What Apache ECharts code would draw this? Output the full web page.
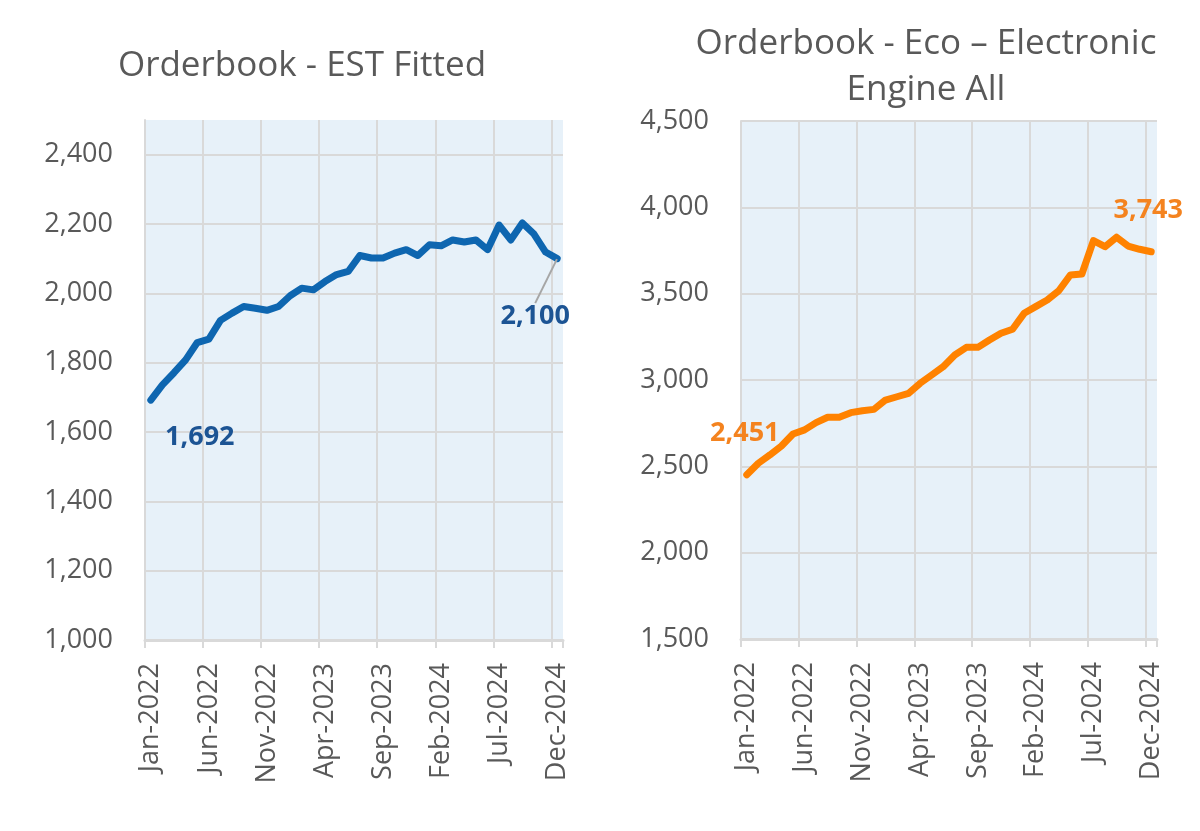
<!DOCTYPE html>
<html>
<head>
<meta charset="utf-8">
<script src="https://cdn.jsdelivr.net/npm/echarts@6/dist/echarts.min.js"></script>
<style>
html,body{margin:0;padding:0;background:#fff;}
#c{width:1200px;height:831px;}
</style>
</head>
<body>
<div id="c"></div>
<script>
var months = ['Jan-2022','Feb-2022','Mar-2022','Apr-2022','May-2022','Jun-2022','Jul-2022','Aug-2022','Sep-2022','Oct-2022','Nov-2022','Dec-2022',
  'Jan-2023','Feb-2023','Mar-2023','Apr-2023','May-2023','Jun-2023','Jul-2023','Aug-2023','Sep-2023','Oct-2023','Nov-2023','Dec-2023',
  'Jan-2024','Feb-2024','Mar-2024','Apr-2024','May-2024','Jun-2024','Jul-2024','Aug-2024','Sep-2024','Oct-2024','Nov-2024','Dec-2024'];
var estFitted = [1692,1736,1771,1808,1858,1868,1922,1943,1962,1957,1951,1962,
  1993,2015,2010,2034,2054,2063,2109,2102,2102,2116,2126,2109,
  2140,2137,2154,2148,2154,2126,2197,2154,2203,2171,2119,2100];
var ecoElectronic = [2451,2518,2566,2618,2687,2711,2753,2784,2784,2811,2822,2830,
  2884,2903,2923,2981,3029,3077,3145,3189,3189,3232,3271,3294,
  3386,3425,3463,3517,3608,3614,3807,3772,3827,3776,3757,3743];
var titleLeft = 'Orderbook - EST Fitted';
var titleRight = 'Orderbook - Eco \u2013 Electronic\nEngine All';

var FONT = '"Open Sans", sans-serif';
var GRAY = '#595959';
var GRID = '#d9d9d9';
var STEP = 5;
var fmt = function (v) { return v.toLocaleString('en-US'); };

function xAxis(gi) {
  return {
    type: 'category', gridIndex: gi, data: months, boundaryGap: true,
    axisLine: { show: true, lineStyle: { color: GRID, width: 3 } },
    axisTick: { show: true, interval: STEP - 1, length: 8, lineStyle: { color: GRID, width: 2 } },
    axisLabel: { interval: STEP - 1, rotate: 90, margin: 23, color: GRAY, fontFamily: FONT, fontSize: 27 },
    splitLine: { show: false }
  };
}
// helper axis carrying only the vertical gridlines (one per labelled month)
function gridAxis(gi) {
  var n = months.length;
  var cols = [];
  for (var v = 0; v < n; v += STEP) cols.push(GRID);
  cols.push('rgba(0,0,0,0)');
  return {
    type: 'value', gridIndex: gi, min: 0, max: n, interval: STEP, position: 'top',
    axisLine: { show: false }, axisTick: { show: false }, axisLabel: { show: false },
    splitLine: { show: true, lineStyle: { color: cols, width: 2 } }
  };
}
function yAxis(gi, min, max, step, hideTop) {
  var cols = [];
  for (var v = min; v <= max; v += step) cols.push(GRID);
  if (hideTop) cols.push('rgba(0,0,0,0)');
  return {
    type: 'value', gridIndex: gi, min: min, max: max, interval: step,
    axisLine: { show: true, lineStyle: { color: GRID, width: 2 } },
    axisTick: { show: false },
    axisLabel: { margin: 32, color: GRAY, fontFamily: FONT, fontSize: 27,
      formatter: function (v) { return (hideTop && v === max) ? '' : fmt(v); } },
    splitLine: { show: true, lineStyle: { color: cols, width: 2 } }
  };
}

function series(gi, data, lineColor, labelColor, labels) {
  return {
    type: 'line', xAxisIndex: gi, yAxisIndex: gi, data: data.map(function (v, i) {
      var item = { value: v };
      if (labels[i]) {
        item.label = { show: true, position: 'inside', formatter: function (p) { return fmt(p.value); } };
        if (labels[i].line) item.labelLine = { show: true, lineStyle: { color: '#a6a6a6', width: 2 } };
      }
      return item;
    }),
    showSymbol: true, symbol: 'circle', symbolSize: 1, smooth: false,
    lineStyle: { color: lineColor, width: 7, cap: 'round', join: 'round' },
    itemStyle: { color: lineColor },
    label: { show: false, color: labelColor, fontFamily: FONT, fontSize: 27, fontWeight: 'bold' },
    labelLayout: function (p) {
      var l = labels[p.dataIndex];
      if (l) return { dx: l.dx, dy: l.dy };
    },
    emphasis: { disabled: true },
    animation: false
  };
}

var last = months.length - 1;
var leftLabels = {}; leftLabels[0] = { dx: 49, dy: 37 }; leftLabels[last] = { dx: -22, dy: 58, line: true };
var rightLabels = {}; rightLabels[0] = { dx: -2, dy: -41 }; rightLabels[last] = { dx: -3, dy: -41 };

var chart = echarts.init(document.getElementById('c'), null, { renderer: 'canvas' });
chart.setOption({
  animation: false,
  title: [
    { text: titleLeft, left: 297, top: 61, textAlign: 'center', textVerticalAlign: 'middle',
      textStyle: { color: GRAY, fontFamily: FONT, fontSize: 35, fontWeight: 'normal' } },
    { text: titleRight, left: 921, top: 62, textAlign: 'center', textVerticalAlign: 'middle',
      textStyle: { color: GRAY, fontFamily: FONT, fontSize: 35, fontWeight: 'normal', lineHeight: 46 } }
  ],
  grid: [
    { left: 145, top: 120, width: 418, height: 520, show: true, backgroundColor: '#e7f1f9', borderWidth: 0 },
    { left: 741, top: 121, width: 416, height: 518, show: true, backgroundColor: '#e7f1f9', borderWidth: 0 }
  ],
  xAxis: [xAxis(0), xAxis(1), gridAxis(0), gridAxis(1)],
  yAxis: [yAxis(0, 1000, 2500, 200, true), yAxis(1, 1500, 4500, 500, false)],
  series: [
    series(0, estFitted, '#0e66b0', '#1c5494', leftLabels),
    series(1, ecoElectronic, '#ff8200', '#f4831f', rightLabels)
  ]
});
</script>
</body>
</html>
